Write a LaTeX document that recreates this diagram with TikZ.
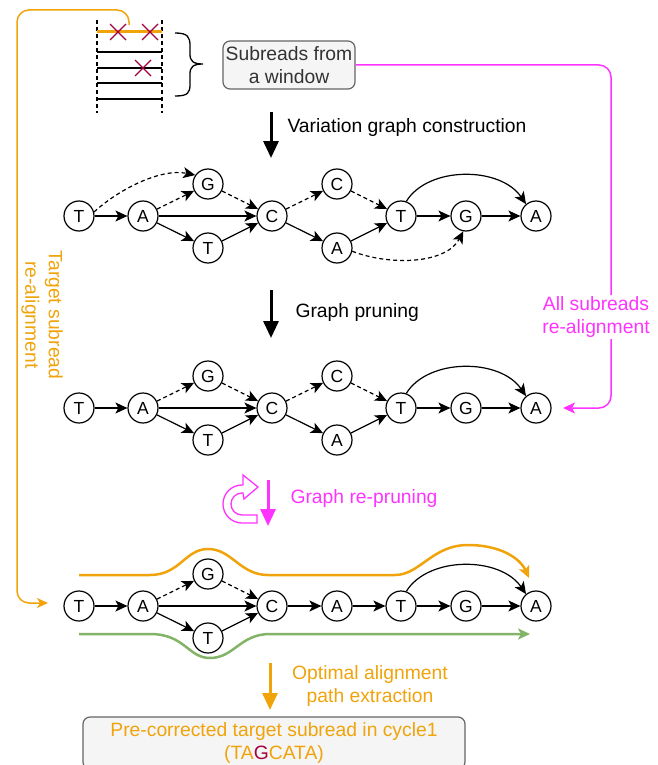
\documentclass[tikz,border=0pt]{standalone}
\usepackage{fontspec}
\setmainfont{Liberation Sans}
\usetikzlibrary{arrows.meta}
\definecolor{orng}{HTML}{F0A30A}
\definecolor{grn}{HTML}{82B366}
\definecolor{mag}{HTML}{FF33FF}
\definecolor{crim}{HTML}{A50040}
\definecolor{boxfill}{HTML}{F5F5F5}
\definecolor{boxline}{HTML}{666666}
\definecolor{txt}{HTML}{333333}
\newcommand\mynodes[1]{%
  \node[nd] (#1T1) at (79,216) {T};
  \node[nd] (#1A1) at (143,216) {A};
  \node[nd] (#1G1) at (208,184) {G};
  \node[nd] (#1T2) at (208,248) {T};
  \node[nd] (#1C1) at (272,216) {C};
  \node[nd] (#1T3) at (401,216) {T};
  \node[nd] (#1G2) at (466,216) {G};
  \node[nd] (#1A3) at (536,216) {A};
  \draw[ed] (#1T1) -- (#1A1);
  \draw[ded] (#1A1) -- (#1G1);
  \draw[ed] (#1A1) -- (#1C1);
  \draw[ed] (#1A1) -- (#1T2);
  \draw[ded] (#1G1) -- (#1C1);
  \draw[ed] (#1T2) -- (#1C1);
  \draw[ed] (#1T3) -- (#1G2);
  \draw[ed] (#1G2) -- (#1A3);
  \draw[ed] (#1T3.70) .. controls (428,166) and (500,166) .. (#1A3.130);
}
\newcommand\mymiddle[1]{%
  \node[nd] (#1C2) at (337,184) {C};
  \node[nd] (#1A2) at (337,248) {A};
  \draw[ded] (#1C1) -- (#1C2);
  \draw[ed] (#1C1) -- (#1A2);
  \draw[ded] (#1C2) -- (#1T3);
  \draw[ed] (#1A2) -- (#1T3);
}
\begin{document}
\begin{tikzpicture}[x=1pt,y=-1pt,
  nd/.style={circle,draw,line width=1.2pt,minimum size=30pt,inner sep=0pt,fill=white,font=\fontsize{17.5}{17.5}\selectfont},
  ed/.style={-{Stealth[length=12pt,width=11pt,inset=3pt]},line width=1.2pt},
  ded/.style={ed,dash pattern=on 4pt off 3pt},
  lbl/.style={font=\fontsize{19.3}{23.5}\selectfont,align=center},
  bigarrow/.style={-{Triangle[length=17pt,width=15pt]},line width=3pt},
  rbox/.style={draw=boxline,fill=boxfill,rounded corners=7pt,line width=1.2pt,align=center,font=\fontsize{19.3}{23.5}\selectfont}
]
\useasboundingbox (0,0) rectangle (658,765);

% --- subreads
\draw[line width=1.2pt,dash pattern=on 4pt off 3pt] (97,20) -- (97,113);
\draw[line width=1.2pt,dash pattern=on 4pt off 3pt] (162,20) -- (162,113);
\draw[orng,line width=3pt] (97,32) -- (162,32);
\foreach \yy in {52,68,83,99} \draw[line width=1.3pt] (97,\yy) -- (162,\yy);
\foreach \cx/\cy in {118/32,150/32,143/68}
  \draw[crim,line width=1.3pt] (\cx-8,\cy-8) -- (\cx+8,\cy+8) (\cx-8,\cy+8) -- (\cx+8,\cy-8);
\draw[line width=1.3pt] (175,33) .. controls (188,33) and (190,37) .. (190,46) -- (190,54)
  .. controls (190,61) and (193,64) .. (203,64) .. controls (193,64) and (190,67) .. (190,74)
  -- (190,84) .. controls (190,93) and (188,96) .. (175,96);
\node[rbox,text=txt,minimum width=132pt,minimum height=48pt,inner xsep=2pt] (sub) at (289,65) {Subreads from\\a window};

% --- orange target re-alignment
\coordinate (ostart) at (129,25);
\coordinate (oend) at (48,603);
\draw[orng,line width=1.5pt,rounded corners=12pt,-{Stealth[length=11pt,width=10pt,inset=3pt]}]
  (ostart) -- (129,10) -- (17,10) -- (17,603) -- (oend);
\node[lbl,text=orng,rotate=-90] (tlab) at (42,315) {Target subread\\re-alignment};

% --- magenta all subreads
\coordinate (mend) at (563,408);
\draw[mag,line width=1.5pt,rounded corners=12pt,-{Stealth[length=12pt,width=11pt,inset=3pt]}]
  (sub.east) -- (611,65) -- (611,408) -- (mend);
\node[lbl,text=mag,fill=white,inner sep=1pt] (mlab) at (596,317) {All subreads\\re-alignment};

% --- step arrows
\coordinate (s1a) at (271,112); \coordinate (s1b) at (271,158);
\draw[bigarrow] (s1a) -- (s1b);
\node[lbl,anchor=west] (l1) at (284,128) {Variation graph construction};
\coordinate (s2a) at (271,290); \coordinate (s2b) at (271,338);
\draw[bigarrow] (s2a) -- (s2b);
\node[lbl,anchor=west] (l2) at (292,313) {Graph pruning};
\coordinate (s3a) at (268,480); \coordinate (s3b) at (268,526);
\draw[bigarrow,mag] (s3a) -- (s3b);
\node[lbl,anchor=west,text=mag] (l3) at (287,499) {Graph re-pruning};
\coordinate (s4a) at (270,663); \coordinate (s4b) at (270,710);
\draw[bigarrow,orng] (s4a) -- (s4b);
\node[lbl,text=orng] (l4) at (370,686) {Optimal alignment\\path extraction};

% curved U-turn icon
\draw[mag,line width=1.3pt,fill=white,line join=miter]
  (257,523) -- (242,523) arc[start angle=270,end angle=90,radius=19pt]
  -- (243,485) -- (243,475) -- (258,487) -- (244,499) -- (243,493) -- (242,493)
  arc[start angle=90,end angle=270,radius=11pt] -- (257,515) -- cycle;

% --- graph 1
\mynodes{a}
\mymiddle{a}
\draw[ded] (aT1.15) .. controls (118,190) and (160,168) .. (aG1.145);
\draw[ded] (aA2.-12) .. controls (390,266) and (446,264) .. (aG2.-100);

% --- graph 2
\begin{scope}[shift={(0,192)}]
\mynodes{b}
\mymiddle{b}
\end{scope}

% --- graph 3
\draw[orng,line width=2.5pt,-{Stealth[length=12pt,width=11pt,inset=3pt]}]
  (79,575) -- (150,575) .. controls (180,575) and (185,549) .. (208,549)
  .. controls (232,549) and (240,575) .. (268,575) -- (395,575)
  .. controls (420,575) and (432,545) .. (468,545) .. controls (500,545) and (520,558) .. (529,578);
\draw[grn,line width=2.5pt,-{Stealth[length=12pt,width=11pt,inset=3pt]}]
  (79,634) -- (150,634) .. controls (185,634) and (188,658) .. (210,658)
  .. controls (234,658) and (240,634) .. (270,634) -- (530,634);
\begin{scope}[shift={(0,390)}]
\mynodes{c}
\node[nd] (cA2) at (337,216) {A};
\draw[ed] (cC1) -- (cA2);
\draw[ed] (cA2) -- (cT3);
\end{scope}

% --- result box
\node[rbox,text=orng,minimum width=382pt,minimum height=52pt] (res) at (274,743)
  {Pre-corrected target subread in cycle1\\(TA\textcolor{crim}{G}CATA)};
\end{tikzpicture}
\end{document}
